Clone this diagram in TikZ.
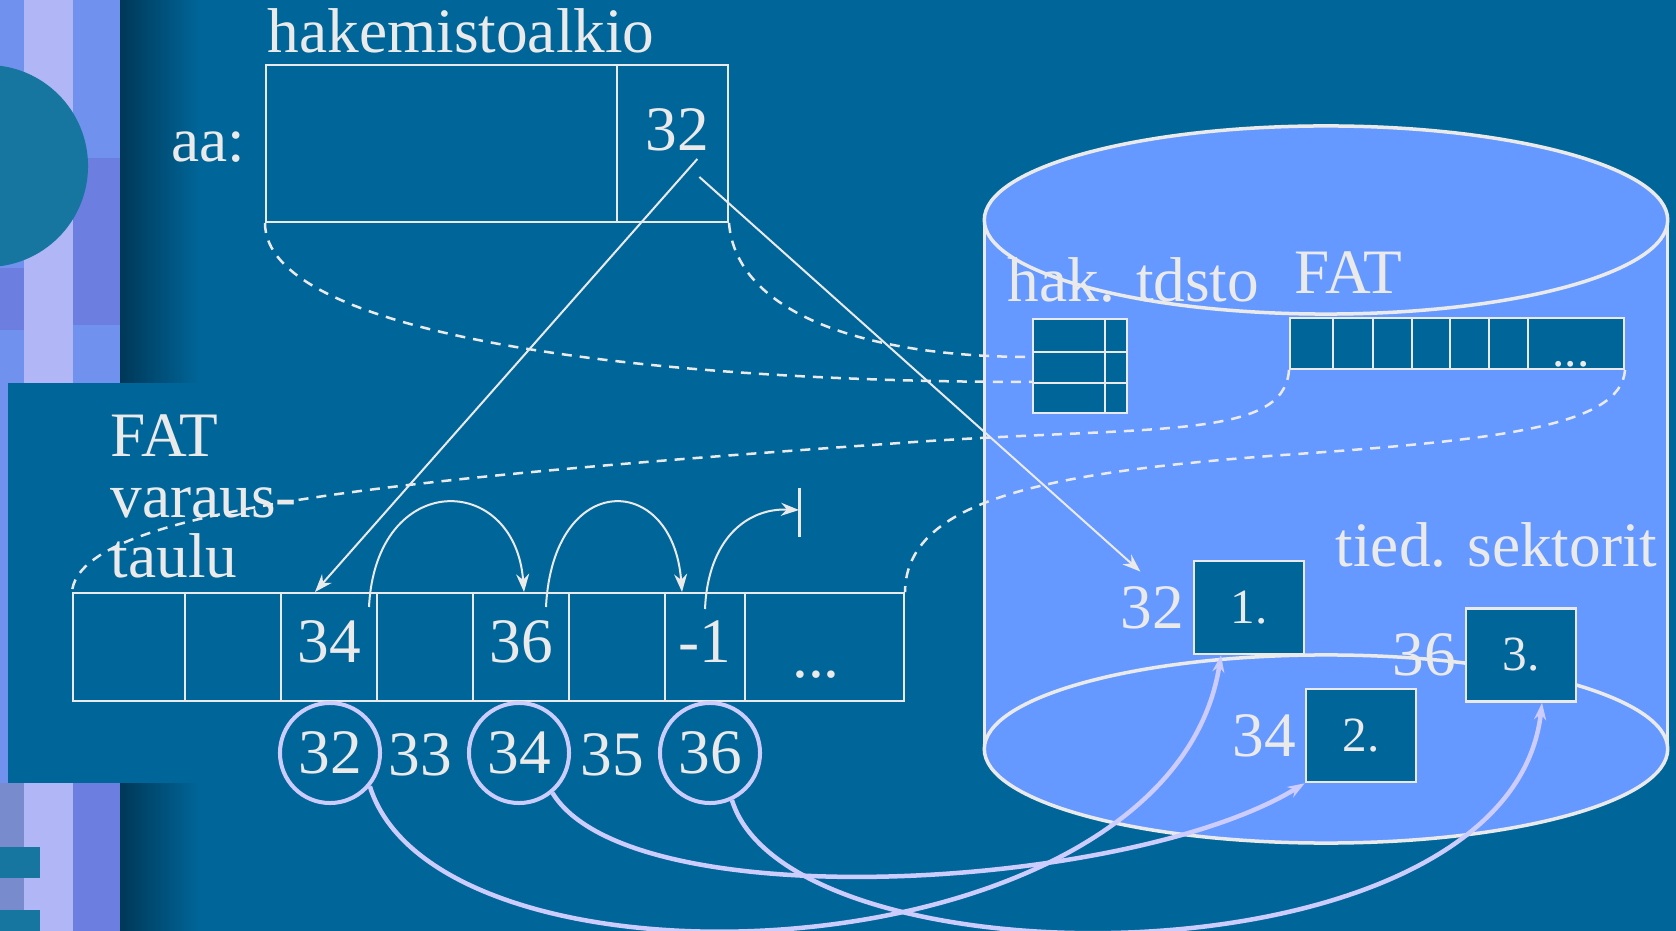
\documentclass[tikz,border=0pt]{standalone}
\usepackage{fontspec}
\setmainfont{Liberation Serif}
\usepackage{tikz}
\usetikzlibrary{arrows.meta,positioning,fit}
\definecolor{SlideBlue}{RGB}{0, 102, 153}
\definecolor{DiskBlue}{RGB}{102, 153, 255}
\definecolor{ChalkWhite}{RGB}{234, 234, 234}
\definecolor{Lilac}{RGB}{204, 204, 255}
\definecolor{StripBlue}{RGB}{112, 146, 238}
\definecolor{StripLight}{RGB}{176, 182, 246}
\definecolor{StripViolet}{RGB}{108, 126, 224}
\definecolor{StripGrey}{RGB}{120, 140, 205}
\definecolor{StripTeal}{RGB}{22, 118, 160}
\definecolor{ShadowBlue}{RGB}{0, 56, 88}
\newcommand{\bigtxt}{\fontsize{18pt}{17pt}\selectfont}
\newcommand{\smalltxt}{\fontsize{14pt}{16pt}\selectfont}

\begin{document}
\begin{tikzpicture}[
    x=0.01cm, y=-0.01cm,
    cellbox/.style={rectangle, draw=ChalkWhite, line width=0.02cm, fill=SlideBlue, inner sep=0pt},
    sector/.style={rectangle, draw=ChalkWhite, line width=0.025cm, fill=SlideBlue, minimum width=1.1cm, minimum height=0.93cm, text=ChalkWhite, font=\smalltxt},
    txt/.style={text=ChalkWhite, font=\bigtxt, inner sep=0pt},
    idx/.style={circle, draw=Lilac, line width=0.04cm, minimum size=1cm, inner sep=0pt, text=ChalkWhite, font=\bigtxt},
    guide/.style={ChalkWhite, line width=0.025cm, dash pattern=on 0.1cm off 0.08cm},
    arrow/.style={ChalkWhite, line width=0.02cm, -{Stealth[length=0.18cm, width=0.13cm]}},
    chain/.style={Lilac, line width=0.045cm, -{Stealth[length=0.17cm, width=0.12cm]}}
]
\useasboundingbox (0,0) rectangle (1676,931);
\fill[SlideBlue] (0,0) rectangle (1676,931);

% === SIDE STRIP ===
\begin{scope}
\clip (0,0) rectangle (120,931);
\fill[StripBlue] (0,0) rectangle (120,931);
\fill[StripLight] (24,0) rectangle (73,931);
\fill[StripViolet] (73,158) rectangle (120,325);
\fill[StripViolet] (0,268) rectangle (24,330);
\fill[StripTeal] (-13,166) circle [radius=1.01cm];
\fill[StripGrey] (0,783) rectangle (24,931);
\fill[StripViolet] (73,783) rectangle (120,931);
\fill[StripTeal] (0,847) rectangle (40,878);
\fill[StripTeal] (0,910) rectangle (40,931);
\end{scope}
\shade[left color=ShadowBlue, right color=SlideBlue] (120,0) rectangle (200,931);
\fill[SlideBlue] (8,383) rectangle (210,783);

% === DISK ===
\fill[DiskBlue] (984.5,220) rectangle (1667.5,749);
\fill[DiskBlue] (1326,220) ellipse [x radius=3.415cm, y radius=0.94cm];
\fill[DiskBlue] (1326,749) ellipse [x radius=3.415cm, y radius=0.94cm];
\draw[ChalkWhite, line width=0.035cm] (1326,220) ellipse [x radius=3.415cm, y radius=0.94cm];
\draw[ChalkWhite, line width=0.035cm] (1326,749) ellipse [x radius=3.415cm, y radius=0.94cm];
\draw[ChalkWhite, line width=0.035cm] (984.5,220) -- (984.5,749);
\draw[ChalkWhite, line width=0.035cm] (1667.5,220) -- (1667.5,749);

\node[txt, anchor=base west] (dirlabel) at (1007,302) {hak. tdsto};
\node[txt, anchor=base west] (fatlabel) at (1294,294) {FAT};
\node[txt, anchor=base west] (seclabel) at (1335,567) {tied. sektorit};

% directory on disk
\foreach \t/\b/\n in {319/352/1, 352/383/2, 383/413/3} {
    \node[cellbox, fit={(1033,\t) (1105,\b)}] (dira\n) {};
    \node[cellbox, fit={(1105,\t) (1126.5,\b)}] (dirb\n) {};
}

% FAT on disk
\foreach \l/\r/\n in {1290/1333/1, 1333/1373/2, 1373/1412/3, 1412/1450/4, 1450/1489/5, 1489/1528/6, 1528/1624/7}
    \node[cellbox, fit={(\l,318) (\r,369)}] (fat\n) {};
\node[txt, font=\smalltxt, anchor=base] (fatmore) at (1571,367) {...};

% data sectors
\node[sector] (sec1) at (1249,607.5) {1.};
\node[sector] (sec2) at (1361,735.5) {2.};
\node[sector] (sec3) at (1521,655) {3.};
\node[txt, left=0.08cm of sec1] (blk1) {32};
\node[txt, left=0.08cm of sec2] (blk2) {34};
\node[txt, left=0.08cm of sec3] (blk3) {36};

% === DIRECTORY ENTRY ===
\node[txt, anchor=base west] (entrylabel) at (267,53) {hakemistoalkio};
\node[txt, anchor=base west] (aa) at (171,162) {aa:};
\node[cellbox, fit={(266,65) (617,222)}] (entry) {};
\node[cellbox, fit={(617,65) (728,222)}] (ptr) {};
\node[txt] (ptrval) at (677,130) {32};

% === FAT IN MEMORY ===
\node[txt, anchor=base west] (tabA) at (110,457) {FAT};
\node[txt, anchor=base west] (tabB) at (110,518) {varaus-};
\node[txt, anchor=base west] (tabC) at (110,578) {taulu};

\foreach \l/\r/\n in {73/185/1, 185/281/2, 281/377/3, 377/473/4, 473/569/5, 569/665/6, 665/745/7, 745/904/8}
    \node[cellbox, fit={(\l,593) (\r,701)}] (cell\n) {};
\foreach \n/\v in {3/34, 5/36, 7/-1}
    \node[txt] (val\n) at ([yshift=0.05cm]cell\n.center) {\v};
\node[txt, anchor=base] (more) at (816,678) {...};

\node[idx] (idx32) at (330,753) {32};
\node[txt, anchor=base] (idx33) at (420,775) {33};
\node[idx] (idx34) at (519,753) {34};
\node[txt, anchor=base] (idx35) at (612,775) {35};
\node[idx] (idx36) at (710,753) {36};

\coordinate (stop) at (799,510);
\coordinate (bendL) at (900,443);
\coordinate (bendR) at (1283,455);

% === GUIDES ===
\draw[guide] (entry.south west) .. controls +(0,108) and +(-413,0) .. (dira3.north west);
\draw[guide] (ptr.south east) .. controls +(7,88) and +(-173,0) .. ([yshift=-0.06cm]dira2.north west);
\draw[guide] (fat1.south west) .. controls +(-5,71) and +(250,-18) .. (bendL)
    .. controls +(-500,35) and +(7,-83) .. (cell1.north west);
\draw[guide] (fat7.south east) .. controls +(-4,56) and +(217,-15) .. (bendR)
    .. controls +(-233,17) and +(1,-93) .. (cell8.north east);

% === POINTERS ===
\draw[arrow] ([xshift=-0.12cm, yshift=-0.07cm]ptrval.south east) -- ([xshift=-0.14cm]cell3.north);
\draw[arrow] ([xshift=-0.1cm, yshift=-0.25cm]ptrval.south east) -- ([xshift=-0.12cm, yshift=0.14cm]blk1.north);

\draw[arrow] ([xshift=-0.09cm, yshift=-0.15cm]cell3.north east) .. controls +(7,-138) and +(-9,-120) .. ([xshift=0.03cm]cell5.north);
\draw[arrow] ([xshift=-0.24cm, yshift=-0.15cm]cell5.north east) .. controls +(7,-138) and +(-9,-120) .. ([xshift=-0.23cm]cell7.north);
\draw[arrow] ([yshift=-0.17cm]cell7.north) .. controls +(3,-70) and +(-52,-2) .. (stop);
\draw[ChalkWhite, line width=0.03cm] ([yshift=0.22cm]stop) -- ([yshift=-0.27cm]stop);

\draw[chain] (idx32.-40) .. controls (440,1010) and (1170,980) .. ([xshift=-0.28cm]sec1.south);
\draw[chain] (idx34.-50) .. controls (630,920) and (1130,890) .. (sec2.south west);
\draw[chain] (idx36.-65) .. controls (790,990) and (1510,990) .. ([xshift=0.21cm]sec3.south);

\end{tikzpicture}
\end{document}
